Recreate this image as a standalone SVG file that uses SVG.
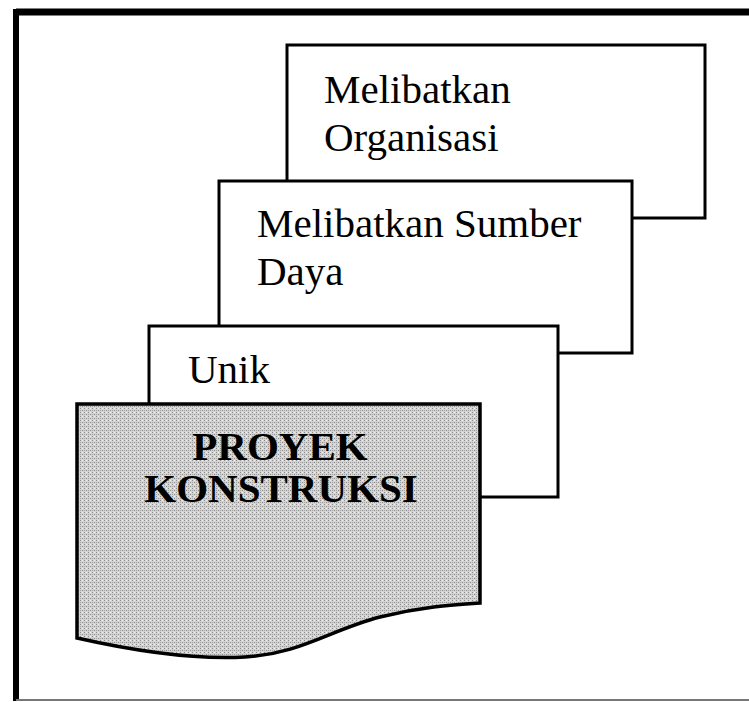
<svg xmlns="http://www.w3.org/2000/svg" width="749" height="702" viewBox="0 0 749 702">
  <style>
    .box { fill: #ffffff; stroke: #000000; stroke-width: 3; }
    .lbl { font-family: "Liberation Serif", "Times New Roman", serif; font-size: 41px; fill: #000000; }
    .bold { font-weight: bold; }
  </style>
  <defs>
    <pattern id="stipple" width="4" height="4" patternUnits="userSpaceOnUse">
      <rect width="4" height="4" fill="#d4d4d4"/>
      <rect x="0" y="0" width="1" height="1" fill="#8a8a8a"/>
      <rect x="2" y="2" width="1" height="1" fill="#8a8a8a"/>
      <rect x="2" y="0" width="1" height="1" fill="#f0f0f0"/>
      <rect x="0" y="2" width="1" height="1" fill="#a8a8a8"/>
    </pattern>
  </defs>
  <rect width="749" height="702" fill="#ffffff"/>
  <g id="frame">
    <line x1="16" y1="12" x2="749" y2="12" stroke="#000" stroke-width="7"/>
    <line x1="16" y1="9" x2="16" y2="701" stroke="#000" stroke-width="6"/>
    <line x1="16" y1="700" x2="749" y2="700" stroke="#777" stroke-width="2"/>
  </g>
  <g id="connectors"></g>
  <g id="node-organisasi">
    <rect class="box" x="287" y="45" width="418" height="173"/>
    <text class="lbl" x="324" y="103">Melibatkan</text>
    <text class="lbl" x="324" y="151">Organisasi</text>
  </g>
  <g id="node-sumberdaya">
    <rect class="box" x="219" y="181" width="413" height="172"/>
    <text class="lbl" x="257" y="237">Melibatkan Sumber</text>
    <text class="lbl" x="257" y="285">Daya</text>
  </g>
  <g id="node-unik">
    <rect class="box" x="149" y="326" width="409" height="171"/>
    <text class="lbl" x="188" y="383">Unik</text>
  </g>
  <g id="node-proyek">
    <path d="M77,404 L480,404 L480,603 C450,605 420,607 380,617 C330,630 300,654 245,657 C190,660 130,650 77,638 Z" fill="url(#stipple)" stroke="#000" stroke-width="3.5"/>
    <text class="lbl bold" x="280" y="460" text-anchor="middle">PROYEK</text>
    <text class="lbl bold" x="281" y="502" text-anchor="middle">KONSTRUKSI</text>
  </g>
</svg>
